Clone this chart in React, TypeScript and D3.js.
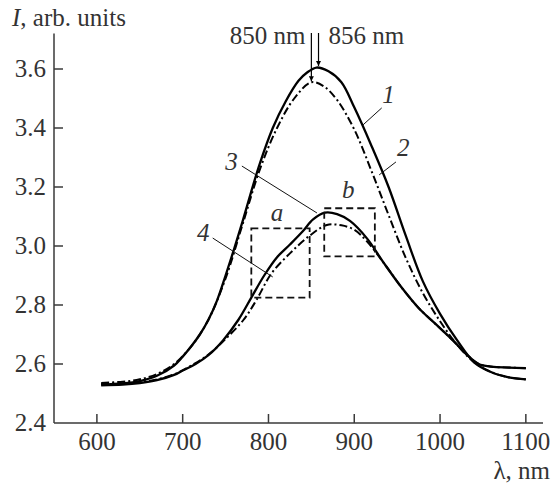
import React from 'react';
import * as d3 from 'd3';

// curve 1 (solid) and 2 (dash-dot): large peaks
const lam1 = [605, 630, 650, 670, 690, 700, 710, 720, 730, 740, 750, 760, 770, 780, 790, 805, 820, 835, 845, 856, 870, 885, 900, 920, 940, 960, 980, 1000, 1020, 1040, 1060, 1080, 1100];
const val1 = [2.530, 2.534, 2.542, 2.560, 2.595, 2.625, 2.660, 2.700, 2.750, 2.815, 2.900, 2.990, 3.085, 3.185, 3.280, 3.400, 3.490, 3.560, 3.588, 3.605, 3.592, 3.555, 3.470, 3.340, 3.200, 3.035, 2.880, 2.770, 2.680, 2.605, 2.572, 2.555, 2.548];

const lam2 = [605, 630, 650, 670, 690, 710, 730, 750, 770, 790, 810, 830, 850, 865, 880, 900, 920, 940, 960, 980, 1000, 1020, 1040, 1060, 1080, 1100];
const val2 = [2.536, 2.540, 2.548, 2.566, 2.600, 2.660, 2.750, 2.890, 3.075, 3.260, 3.400, 3.500, 3.555, 3.540, 3.495, 3.395, 3.255, 3.105, 2.960, 2.840, 2.745, 2.665, 2.605, 2.572, 2.555, 2.548];

// curve 3 (solid) and 4 (dash-dot): small peaks
const lam3 = [605, 630, 650, 670, 690, 700, 715, 730, 747, 765, 780, 795, 810, 825, 840, 852, 866, 880, 895, 915, 935, 955, 975, 995, 1015, 1030, 1045, 1060, 1080, 1100];
const val3 = [2.528, 2.530, 2.535, 2.545, 2.563, 2.578, 2.600, 2.630, 2.680, 2.750, 2.825, 2.900, 2.962, 3.005, 3.050, 3.090, 3.113, 3.108, 3.085, 3.025, 2.940, 2.860, 2.790, 2.735, 2.680, 2.635, 2.600, 2.591, 2.588, 2.586];

const lam4 = [605, 630, 650, 670, 690, 710, 730, 750, 771, 786, 803, 825, 848, 868, 885, 900, 915, 935, 955, 975, 995, 1015, 1030, 1045, 1060, 1080, 1100];
const val4 = [2.532, 2.534, 2.538, 2.548, 2.565, 2.595, 2.632, 2.685, 2.750, 2.817, 2.905, 2.975, 3.035, 3.071, 3.070, 3.055, 3.015, 2.940, 2.860, 2.790, 2.735, 2.680, 2.635, 2.600, 2.591, 2.588, 2.586];

const xTicks = [600, 700, 800, 900, 1000, 1100];
const yTicks = [2.4, 2.6, 2.8, 3.0, 3.2, 3.4, 3.6];

// curve labels with leader lines (data units)
const curveLabels = ['1', '2', '3', '4'];
const labelPos = [[940, 3.512], [957, 3.332], [757, 3.285], [724, 3.044]];
const leaderFrom = [[932, 3.468], [948.6, 3.285], [769, 3.271], [735, 3.027]];
const leaderTo = [[910, 3.41], [929, 3.241], [856.5, 3.112], [805, 2.895]];

// dashed boxes a and b
const boxNames = ['a', 'b'];
const boxLam = [[780, 848], [865, 924]];
const boxVal = [[2.825, 3.06], [2.965, 3.128]];
const boxLabelPos = [[810, 3.105], [893, 3.183]];

const peaks = [850, 856];
const peakVals = [3.555, 3.607];

const FONT = 'Liberation Serif';
const txt = { fontFamily: FONT, fontSize: 25, fill: '#333' };

const App = () => {
  const x = d3.scaleLinear().domain([550, 1120]).range([54, 543]);
  const y = d3.scaleLinear().domain([2.4, 3.72]).range([423, 33.6]);
  const axisColor = '#3a3a3a';

  const line = d3.line<[number, number]>()
    .x(d => x(d[0]))
    .y(d => y(d[1]))
    .curve(d3.curveCatmullRom.alpha(0.5));

  const series = [
    { lam: lam1, val: val1, dash: undefined },
    { lam: lam2, val: val2, dash: '8,3,2,3' },
    { lam: lam3, val: val3, dash: undefined },
    { lam: lam4, val: val4, dash: '8,3,2,3' },
  ];

  return (
    <svg width={553} height={487}
      style={{ position: 'absolute', left: 0, top: 0, background: '#fff' }}>
      <defs>
        <marker id="arr" viewBox="0 0 10 10" refX={10} refY={5} markerWidth={9} markerHeight={5}
          markerUnits="userSpaceOnUse" orient="auto">
          <path d="M0,0 L10,5 L0,10 Z" fill="#000" />
        </marker>
      </defs>

      {/* axes */}
      <line x1={54} x2={54} y1={y(2.4)} y2={y(3.72)} stroke={axisColor} strokeWidth={1.5} />
      <line x1={54} x2={x(1120)} y1={y(2.4)} y2={y(2.4)} stroke={axisColor} strokeWidth={1.5} />
      {xTicks.map(t => (
        <g key={'x' + t}>
          <line x1={x(t)} x2={x(t)} y1={y(2.4)} y2={y(2.4) - 9} stroke={axisColor} strokeWidth={1.5} />
          <text x={x(t)} y={y(2.4) + 27} textAnchor="middle" style={txt}>{t}</text>
        </g>
      ))}
      {yTicks.map(t => (
        <g key={'y' + t}>
          {t > 2.4 && <line x1={54} x2={63} y1={y(t)} y2={y(t)} stroke={axisColor} strokeWidth={1.5} />}
          <text x={46} y={y(t) + 8} textAnchor="end" style={txt}>{d3.format('.1f')(t)}</text>
        </g>
      ))}
      <text x={12} y={26} style={txt}>
        <tspan style={{ fontStyle: 'italic' }}>I</tspan>, arb. units
      </text>
      <text x={550} y={479} textAnchor="end" style={txt}>λ, nm</text>

      {/* curves */}
      {series.map((s, k) => (
        <path key={'c' + k}
          d={line(s.lam.map((l, i) => [l, s.val[i]] as [number, number])) || ''}
          fill="none" stroke="#000" strokeWidth={s.dash ? 2 : 2.3}
          strokeDasharray={s.dash} strokeLinejoin="round" />
      ))}

      {/* dashed boxes */}
      {boxNames.map((n, i) => (
        <g key={'b' + n}>
          <rect x={x(boxLam[i][0])} y={y(boxVal[i][1])}
            width={x(boxLam[i][1]) - x(boxLam[i][0])} height={y(boxVal[i][0]) - y(boxVal[i][1])}
            fill="none" stroke="#111" strokeWidth={1.8} strokeDasharray="7,4" />
          <text x={x(boxLabelPos[i][0])} y={y(boxLabelPos[i][1]) + 6} textAnchor="middle"
            style={{ ...txt, fontStyle: 'italic' }}>{n}</text>
        </g>
      ))}

      {/* curve numbers */}
      {curveLabels.map((c, i) => (
        <g key={'l' + c}>
          <line x1={x(leaderFrom[i][0])} y1={y(leaderFrom[i][1])}
            x2={x(leaderTo[i][0])} y2={y(leaderTo[i][1])} stroke="#111" strokeWidth={1} />
          <text x={x(labelPos[i][0])} y={y(labelPos[i][1]) + 8} textAnchor="middle"
            style={{ ...txt, fontStyle: 'italic' }}>{c}</text>
        </g>
      ))}

      {/* peak arrows */}
      {peaks.map((p, i) => {
        const px = x(p) + (i === 1 ? 2 : 0);
        return (
          <line key={'p' + p} x1={px} x2={px} y1={y(3.722)} y2={y(peakVals[i]) - 1}
            stroke="#000" strokeWidth={1.2} markerEnd="url(#arr)" />
        );
      })}
      <text x={x(850) - 6} y={44} textAnchor="end" style={txt}>850 nm</text>
      <text x={x(856) + 12} y={44} style={txt}>856 nm</text>
    </svg>
  );
};

export default App;
